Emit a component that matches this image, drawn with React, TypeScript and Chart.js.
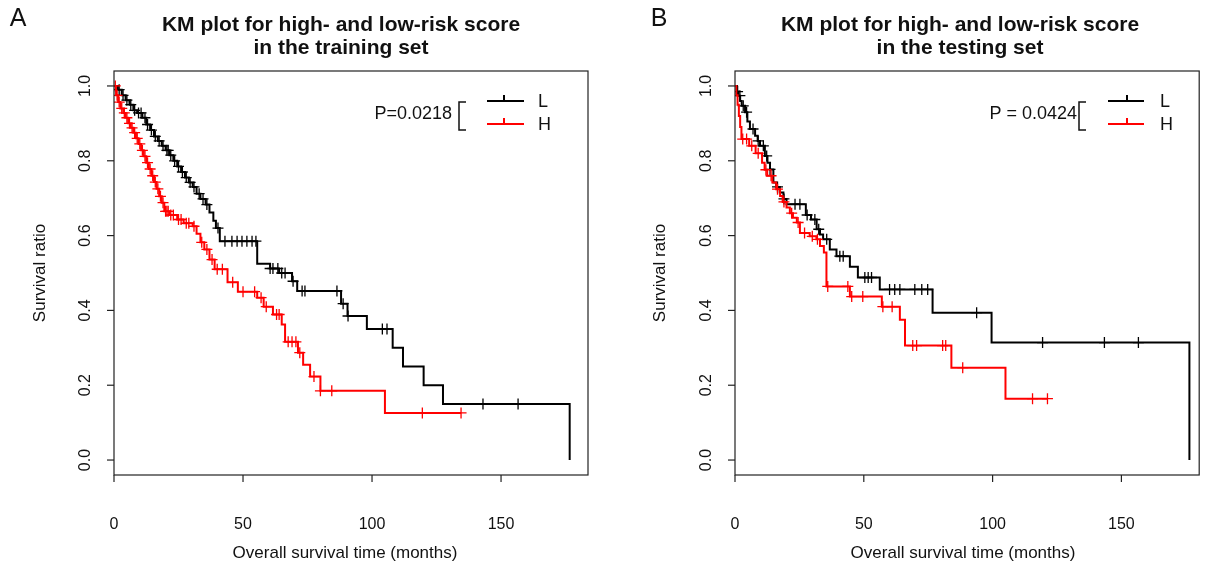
import React, { useEffect, useRef } from 'react';
import { Chart, registerables } from 'chart.js';

Chart.register(...registerables);

// ---------- axis ticks ----------
const xTicks = [0, 50, 100, 150];
const xTickLabels = ['0', '50', '100', '150'];
const yTicks = [0, 0.2, 0.4, 0.6, 0.8, 1.0];
const yTickLabels = ['0.0', '0.2', '0.4', '0.6', '0.8', '1.0'];

// ---------- Panel A: training set ----------
const trainLowTime = [0, 1.5, 3, 4.5, 6, 7.5, 9, 11, 12.5, 14, 15.5, 17, 18.5, 20, 21.5, 23, 24.5, 26, 27.5, 29, 30.5, 32, 33.5, 35.5, 37, 38.5, 39.5, 41, 55.5, 60.5, 64, 69, 71, 88, 90.5, 98, 108, 112, 120, 127.5, 176.6];
const trainLowSurv = [1, 0.99, 0.975, 0.962, 0.95, 0.935, 0.928, 0.915, 0.897, 0.882, 0.865, 0.853, 0.84, 0.828, 0.815, 0.8, 0.785, 0.77, 0.755, 0.742, 0.73, 0.712, 0.698, 0.683, 0.662, 0.64, 0.62, 0.585, 0.525, 0.512, 0.5, 0.478, 0.452, 0.418, 0.385, 0.35, 0.3, 0.25, 0.2, 0.15, 0];
const trainLowCensor = [2, 3.5, 5, 6.5, 8, 9.5, 10.5, 12, 13, 14.5, 16, 17.5, 19, 20.5, 21, 22, 23.5, 25, 26.5, 28, 29.5, 31, 33, 34.5, 36, 40.3, 43, 45.7, 47.7, 49.6, 51.5, 53.5, 55, 60.5, 61.6, 63.5, 65, 66.3, 69.4, 72.9, 74, 86.4, 88.8, 90.7, 104, 105.8, 143, 156.6];

const trainHighTime = [0, 0.8, 1.6, 2.5, 3.6, 4.5, 5.5, 6.5, 7.5, 8.5, 9.5, 10.5, 11.5, 12.5, 13.5, 14.5, 15.5, 16.5, 17.5, 18.5, 19.5, 21.5, 24.5, 27, 30.5, 32, 33.5, 35, 37, 39, 44, 48, 55.5, 58, 61.6, 65, 66.3, 71.3, 73.3, 76, 80, 105];
const trainHighSurv = [1, 0.975, 0.957, 0.94, 0.928, 0.915, 0.9, 0.888, 0.875, 0.86, 0.845, 0.828, 0.812, 0.795, 0.778, 0.76, 0.743, 0.725, 0.705, 0.688, 0.665, 0.655, 0.643, 0.633, 0.625, 0.605, 0.582, 0.563, 0.536, 0.51, 0.475, 0.45, 0.434, 0.41, 0.389, 0.362, 0.316, 0.287, 0.255, 0.223, 0.185, 0.126];
const trainHighCensor = [0.5, 1.2, 2, 3, 4, 5, 6, 7, 8, 9, 10, 11, 12, 13, 14, 15, 16, 17, 18, 19, 20, 20.5, 21, 22, 23, 25, 26, 28, 29, 31, 34, 36, 38, 40, 42, 46, 50, 54.5, 57, 59, 63, 64, 67.5, 69, 70.5, 72, 77.5, 80, 84.4, 119.5, 134.5];

// ---------- Panel B: testing set ----------
const testLowTime = [0, 0.8, 1.3, 2, 2.6, 3.9, 4.8, 5.8, 7.8, 8.8, 9.7, 11.6, 12.6, 13.6, 14.9, 16, 17.4, 18.8, 20, 27.5, 29.5, 31.7, 33, 34.2, 36.8, 39.4, 44.6, 47.7, 56.2, 76.7, 99.6, 176.4];
const testLowSurv = [1, 0.985, 0.974, 0.96, 0.947, 0.93, 0.905, 0.885, 0.867, 0.853, 0.84, 0.813, 0.795, 0.777, 0.742, 0.73, 0.715, 0.698, 0.684, 0.655, 0.643, 0.617, 0.603, 0.59, 0.563, 0.545, 0.517, 0.488, 0.456, 0.394, 0.314, 0];
const testLowCensor = [1, 1.9, 3.2, 4.5, 7, 9, 11, 12.3, 13.6, 16.5, 19, 23.3, 25.2, 28, 31, 32.5, 35.6, 40.7, 42, 50.4, 51.7, 53, 60, 62, 64, 69.8, 72.5, 74.8, 93.8, 119.4, 143.4, 156.6];

const testHighTime = [0, 0.5, 1, 1.5, 2, 2.5, 5.5, 8, 10.5, 11.5, 12.5, 14.5, 16, 17.5, 18.5, 20, 21.3, 22.5, 24, 25.2, 29, 31.6, 33, 34.5, 35.5, 44.6, 57, 64, 66, 84, 105];
const testHighSurv = [1, 0.975, 0.95, 0.92, 0.89, 0.858, 0.84, 0.82, 0.795, 0.776, 0.76, 0.742, 0.724, 0.706, 0.69, 0.675, 0.66, 0.648, 0.635, 0.607, 0.598, 0.59, 0.572, 0.555, 0.464, 0.437, 0.41, 0.375, 0.306, 0.247, 0.164];
const testHighCensor = [3, 4.5, 6.5, 9, 12, 14, 16.5, 19, 22, 24.5, 27, 30, 32, 36, 43.8, 45.3, 49.6, 57.4, 61, 69, 70.5, 80.6, 81.8, 88.4, 115.5, 121.3];

const FONT = '"Liberation Sans", Arial, Helvetica, sans-serif';
const RED = '#ff0000';
const BLACK = '#000000';

function survAt(times: number[], surv: number[], t: number) {
  let s = surv[0];
  for (let i = 0; i < times.length; i++) if (times[i] <= t) s = surv[i];
  return s;
}
function stepPoints(times: number[], surv: number[], censor: number[]) {
  const pts = times.map((t, i) => ({ x: t, y: surv[i] }));
  const lastC = Math.max(...censor);
  if (lastC > times[times.length - 1]) pts.push({ x: lastC, y: surv[surv.length - 1] });
  return pts;
}
function censorPoints(times: number[], surv: number[], censor: number[]) {
  return censor.map((t) => ({ x: t, y: survAt(times, surv, t) }));
}

type PanelCfg = {
  letter: string;
  title2: string;
  pText: string;
  xMax: number;
  pad: { left: number; right: number; top: number; bottom: number };
  titleX: number;
  xTitleX: number;
  yTitleX: number;
  letterX: number;
  pRight: number;
  bracketX: number;
  legX1: number;
  legX2: number;
  legTickX: number;
  legTextX: number;
  low: [number[], number[], number[]];
  high: [number[], number[], number[]];
};

const panels: PanelCfg[] = [
  {
    letter: 'A', title2: 'in the training set', pText: 'P=0.0218', xMax: 183.7,
    pad: { left: 114, right: 15, top: 71, bottom: 94 },
    titleX: 341, xTitleX: 345, yTitleX: 40, letterX: 18,
    pRight: 452, bracketX: 459, legX1: 487, legX2: 524, legTickX: 504, legTextX: 538,
    low: [trainLowTime, trainLowSurv, trainLowCensor],
    high: [trainHighTime, trainHighSurv, trainHighCensor],
  },
  {
    letter: 'B', title2: 'in the testing set', pText: 'P = 0.0424', xMax: 180.2,
    pad: { left: 132, right: 6, top: 71, bottom: 94 },
    titleX: 357, xTitleX: 360, yTitleX: 57, letterX: 56,
    pRight: 474, bracketX: 476, legX1: 505, legX2: 541, legTickX: 524, legTextX: 557,
    low: [testLowTime, testLowSurv, testLowCensor],
    high: [testHighTime, testHighSurv, testHighCensor],
  },
];

function Panel({ cfg }: { cfg: PanelCfg }) {
  const ref = useRef<HTMLCanvasElement>(null);
  useEffect(() => {
    if (!ref.current) return;
    const decor = {
      id: 'decor',
      afterDraw(chart: any) {
        const { ctx, chartArea } = chart;
        const { left, right, top, bottom } = chartArea;
        const xs = chart.scales.x;
        const ys = chart.scales.y;
        ctx.save();
        ctx.strokeStyle = '#222';
        ctx.lineWidth = 1.2;
        ctx.strokeRect(left, top, right - left, bottom - top);
        ctx.fillStyle = '#111';
        ctx.textAlign = 'center';
        ctx.textBaseline = 'middle';
        // y ticks
        ctx.font = `16px ${FONT}`;
        yTicks.forEach((v, i) => {
          const py = ys.getPixelForValue(v);
          ctx.beginPath();
          ctx.moveTo(left - 7, py);
          ctx.lineTo(left, py);
          ctx.stroke();
          ctx.save();
          ctx.translate(left - 28, py);
          ctx.rotate(-Math.PI / 2);
          ctx.fillText(yTickLabels[i], 0, 0);
          ctx.restore();
        });
        // x ticks
        xTicks.forEach((v, i) => {
          const px = xs.getPixelForValue(v);
          ctx.beginPath();
          ctx.moveTo(px, bottom);
          ctx.lineTo(px, bottom + 7);
          ctx.stroke();
          ctx.fillText(xTickLabels[i], px, 525);
        });
        // axis titles
        ctx.font = `17px ${FONT}`;
        ctx.fillText('Overall survival time (months)', cfg.xTitleX, 553);
        ctx.save();
        ctx.translate(cfg.yTitleX, (top + bottom) / 2);
        ctx.rotate(-Math.PI / 2);
        ctx.fillText('Survival ratio', 0, 0);
        ctx.restore();
        // title
        ctx.font = `bold 21px ${FONT}`;
        ctx.fillText('KM plot for high- and low-risk score', cfg.titleX, 25);
        ctx.fillText(cfg.title2, cfg.titleX, 48);
        // panel letter
        ctx.font = `25px ${FONT}`;
        ctx.fillText(cfg.letter, cfg.letterX, 19);
        // legend
        ctx.font = `18px ${FONT}`;
        ctx.textAlign = 'right';
        ctx.fillText(cfg.pText, cfg.pRight, 114);
        ctx.strokeStyle = '#111';
        ctx.lineWidth = 1.5;
        ctx.beginPath();
        ctx.moveTo(cfg.bracketX + 7, 102);
        ctx.lineTo(cfg.bracketX, 102);
        ctx.lineTo(cfg.bracketX, 130);
        ctx.lineTo(cfg.bracketX + 7, 130);
        ctx.stroke();
        const legRows: [string, string, number][] = [[BLACK, 'L', 101], [RED, 'H', 124]];
        legRows.forEach(([col, lab, ly]) => {
          ctx.strokeStyle = col;
          ctx.lineWidth = 2;
          ctx.beginPath();
          ctx.moveTo(cfg.legX1, ly);
          ctx.lineTo(cfg.legX2, ly);
          ctx.moveTo(cfg.legTickX, ly);
          ctx.lineTo(cfg.legTickX, ly - 6);
          ctx.stroke();
          ctx.fillStyle = '#111';
          ctx.textAlign = 'left';
          ctx.fillText(lab, cfg.legTextX, ly + 1);
        });
        ctx.restore();
      },
    };
    const [lt, ls, lc] = cfg.low;
    const [ht, hs, hc] = cfg.high;
    const censorDs = (data: any[], col: string) => ({
      data,
      showLine: false,
      pointStyle: 'cross',
      pointRadius: 5.5,
      pointBorderColor: col,
      pointBackgroundColor: col,
      pointBorderWidth: 1.3,
      borderColor: col,
    });
    const lineDs = (data: any[], col: string) => ({
      data,
      stepped: true,
      borderColor: col,
      borderWidth: 2,
      pointRadius: 0,
      fill: false,
    });
    const chart = new Chart(ref.current, {
      type: 'line',
      data: {
        datasets: [
          censorDs(censorPoints(ht, hs, hc), RED),
          lineDs(stepPoints(ht, hs, hc), RED),
          censorDs(censorPoints(lt, ls, lc), BLACK),
          lineDs(stepPoints(lt, ls, lc), BLACK),
        ] as any,
      },
      options: {
        animation: false,
        responsive: false,
        events: [],
        layout: { padding: cfg.pad },
        scales: {
          x: { type: 'linear', min: 0, max: cfg.xMax, display: false },
          y: { type: 'linear', min: -0.04, max: 1.04, display: false },
        },
        plugins: { legend: { display: false }, tooltip: { enabled: false }, title: { display: false } },
      },
      plugins: [decor],
    });
    return () => chart.destroy();
  }, [cfg]);
  return <canvas ref={ref} width={603} height={569} style={{ display: 'block', width: 603, height: 569 }} />;
}

export default function App() {
  return (
    <div style={{ position: 'absolute', left: 0, top: 0, width: 1206, height: 569, display: 'flex', background: '#fff' }}>
      {panels.map((p) => (
        <Panel key={p.letter} cfg={p} />
      ))}
    </div>
  );
}
